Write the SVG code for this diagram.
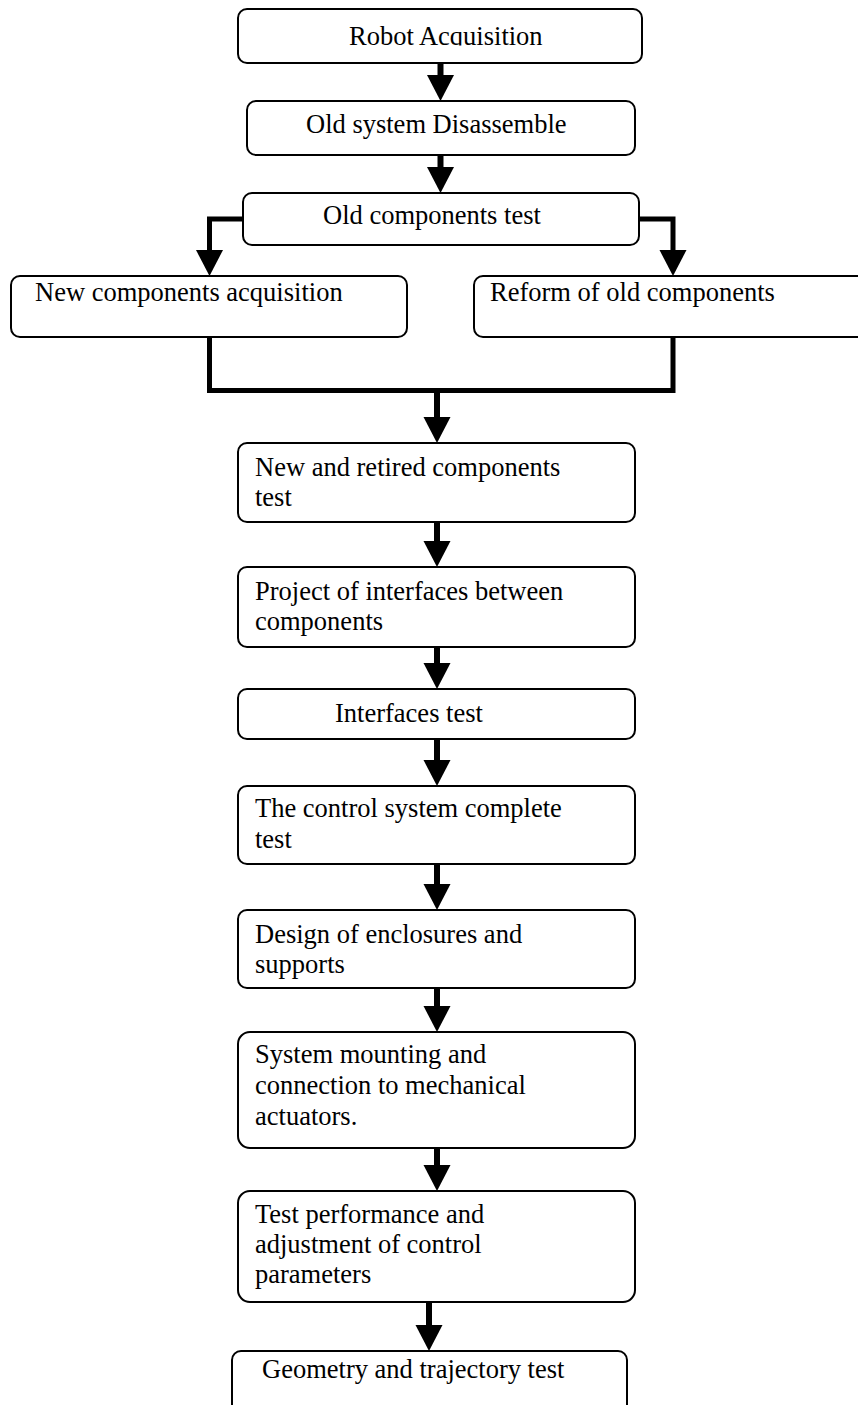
<svg xmlns="http://www.w3.org/2000/svg" xmlns:xlink="http://www.w3.org/1999/xlink" width="858" height="1405" viewBox="0 0 858 1405">
<style>
.box{fill:#fff;stroke:#000;stroke-width:2}
.t{font-family:"Liberation Serif","Times New Roman",serif;font-size:26.5px;fill:#000}
.ln{fill:none;stroke:#000;stroke-width:6;stroke-linejoin:miter;stroke-linecap:butt}
.br{fill:none;stroke:#000;stroke-width:5;stroke-linejoin:miter;stroke-linecap:butt}
</style>
<defs>
<path id="head" d="M-13.5,-26 L13.5,-26 L0,0 Z" fill="#000"/>
<clipPath id="clip1"><rect x="238" y="0" width="404" height="45.5"/></clipPath>
</defs>
<rect width="858" height="1405" fill="#fff"/>
<g id="connectors">
<path class="ln" d="M440.5,63 V76"/><use xlink:href="#head" x="440.5" y="101"/>
<path class="ln" d="M440.5,155 V168"/><use xlink:href="#head" x="440.5" y="193"/>
<path class="br" d="M243,219 H209.5 V252"/><use xlink:href="#head" x="209.5" y="276"/>
<path class="br" d="M639,219 H673 V252"/><use xlink:href="#head" x="673" y="276"/>
<path class="br" d="M209.5,337 V390.5 H673 V337"/>
<path class="ln" d="M437,388 V419"/><use xlink:href="#head" x="437" y="443"/>
<path class="ln" d="M437,522 V542"/><use xlink:href="#head" x="437" y="567"/>
<path class="ln" d="M437,647 V664"/><use xlink:href="#head" x="437" y="689"/>
<path class="ln" d="M437,739 V761"/><use xlink:href="#head" x="437" y="786"/>
<path class="ln" d="M437,864 V885"/><use xlink:href="#head" x="437" y="910"/>
<path class="ln" d="M437,988 V1007"/><use xlink:href="#head" x="437" y="1032"/>
<path class="ln" d="M437,1148 V1166"/><use xlink:href="#head" x="437" y="1191"/>
<path class="ln" d="M429,1302 V1326"/><use xlink:href="#head" x="429" y="1351"/>
</g>
<g id="n1"><rect class="box" x="238" y="9" width="404" height="54" rx="9"/><text class="t" x="349" y="45" clip-path="url(#clip1)">Robot Acquisition</text></g>
<g id="n2"><rect class="box" x="247" y="101" width="388" height="54" rx="9"/><text class="t" x="306" y="133">Old system Disassemble</text></g>
<g id="n3"><rect class="box" x="243" y="193" width="396" height="52" rx="9"/><text class="t" x="323" y="224">Old components test</text></g>
<g id="n4"><rect class="box" x="11" y="276" width="396" height="61" rx="9"/><text class="t" x="35" y="301">New components acquisition</text></g>
<g id="n5"><rect class="box" x="474" y="276" width="410" height="61" rx="9"/><text class="t" x="490" y="301">Reform of old components</text></g>
<g id="n6"><rect class="box" x="238" y="443" width="397" height="79" rx="9"/><text class="t" x="255" y="476">New and retired components</text><text class="t" x="255" y="506">test</text></g>
<g id="n7"><rect class="box" x="238" y="567" width="397" height="80" rx="9"/><text class="t" x="255" y="600">Project of interfaces between</text><text class="t" x="255" y="630">components</text></g>
<g id="n8"><rect class="box" x="238" y="689" width="397" height="50" rx="9"/><text class="t" x="335" y="722">Interfaces test</text></g>
<g id="n9"><rect class="box" x="238" y="786" width="397" height="78" rx="9"/><text class="t" x="255" y="817">The control system complete</text><text class="t" x="255" y="848">test</text></g>
<g id="n10"><rect class="box" x="238" y="910" width="397" height="78" rx="9"/><text class="t" x="255" y="943">Design of enclosures and</text><text class="t" x="255" y="973">supports</text></g>
<g id="n11"><rect class="box" x="238" y="1032" width="397" height="116" rx="12"/><text class="t" x="255" y="1063">System mounting and</text><text class="t" x="255" y="1094">connection to mechanical</text><text class="t" x="255" y="1125">actuators.</text></g>
<g id="n12"><rect class="box" x="238" y="1191" width="397" height="111" rx="12"/><text class="t" x="255" y="1223">Test performance and</text><text class="t" x="255" y="1253">adjustment of control</text><text class="t" x="255" y="1283">parameters</text></g>
<g id="n13"><rect class="box" x="232" y="1351" width="395" height="80" rx="9"/><text class="t" x="262" y="1378">Geometry and trajectory test</text></g>
</svg>
